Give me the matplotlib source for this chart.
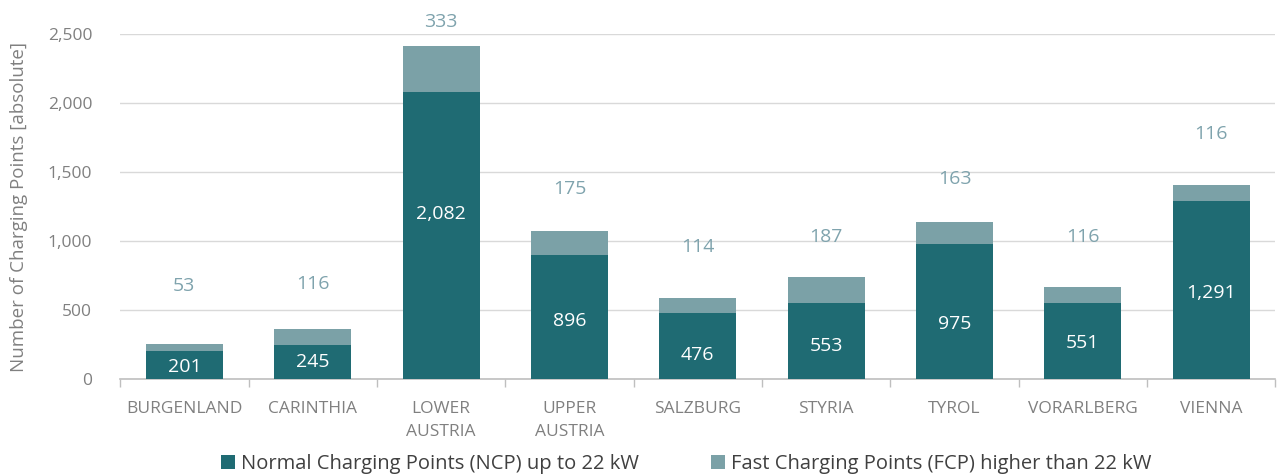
import numpy as np
import matplotlib.pyplot as plt
from matplotlib.ticker import FuncFormatter

plt.rcParams['font.family'] = ['Open Sans', 'DejaVu Sans']

regions = ['BURGENLAND', 'CARINTHIA', 'LOWER\nAUSTRIA', 'UPPER\nAUSTRIA', 'SALZBURG',
           'STYRIA', 'TYROL', 'VORARLBERG', 'VIENNA']
ncp = [201, 245, 2082, 896, 476, 553, 975, 551, 1291]
fcp = [53, 116, 333, 175, 114, 187, 163, 116, 116]
# where the data labels sit (in data units)
ncp_label_y = [87, 123, 1196, 420, 174, 239, 399, 261, 623]
fcp_label_y = [674, 688, 2587, 1377, 957, 1029, 1449, 1029, 1775]

c_ncp = '#1f6b73'
c_fcp = '#7ba1a7'
grey = '#808080'

fig = plt.figure(figsize=(12.78, 4.75), dpi=100)
ax = fig.add_axes([0.094, 0.202, 0.904, 0.7264])

x = np.arange(len(regions))
ax.bar(x, ncp, width=0.6, color=c_ncp, label='Normal Charging Points (NCP) up to 22 kW', zorder=3)
ax.bar(x, fcp, width=0.6, bottom=ncp, color=c_fcp,
       label='Fast Charging Points (FCP) higher than 22 kW', zorder=3)

for i in range(len(regions)):
    ax.text(x[i], ncp_label_y[i], f'{ncp[i]:,}', ha='center', va='center',
            color='white', fontsize=14, zorder=4)
    ax.text(x[i], fcp_label_y[i], f'{fcp[i]:,}', ha='center', va='center',
            color='#7fa3ad', fontsize=14, clip_on=False, zorder=4)

ax.set_xlim(-0.5, len(regions) - 0.5)
ax.set_ylim(0, 2500)
ax.set_yticks([0, 500, 1000, 1500, 2000, 2500])
ax.yaxis.set_major_formatter(FuncFormatter(lambda v, p: f'{int(v):,}'))
ax.grid(axis='y', color='#d9d9d9', linewidth=1, zorder=0)

ax.set_xticks(x)
ax.set_xticklabels(regions, fontsize=12.5, color=grey, linespacing=1.55)
ax.set_xticks(np.arange(-0.5, len(regions), 1), minor=True)
ax.tick_params(axis='x', which='major', length=0, pad=16)
ax.tick_params(axis='x', which='minor', length=6, color='#bfbfbf', width=1)
ax.tick_params(axis='y', length=0, labelsize=12.5, labelcolor=grey, pad=20)

for s in ['top', 'right', 'left']:
    ax.spines[s].set_visible(False)
ax.spines['bottom'].set_color('#bfbfbf')
ax.spines['bottom'].set_linewidth(1.2)

ax.set_ylabel('Number of Charging Points [absolute]', fontsize=13.5, color=grey)
ax.yaxis.set_label_coords(-0.08, 0.5)

ax.legend(loc='upper center', bbox_to_anchor=(0.49, -0.195), ncol=2, frameon=False,
          fontsize=14.5, handlelength=0.7, handleheight=0.7, handletextpad=0.3,
          columnspacing=3.6, labelcolor='#404040', borderaxespad=0)

fig.savefig('out.png', dpi=100)
